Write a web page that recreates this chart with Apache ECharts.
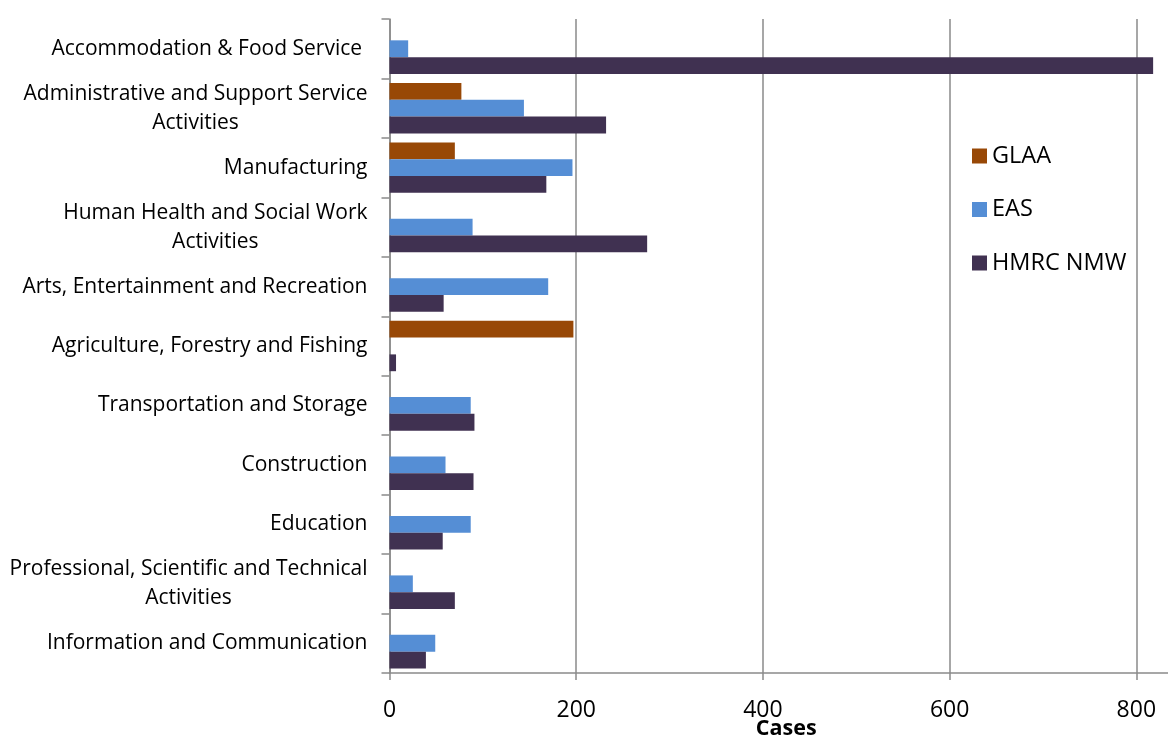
<!DOCTYPE html>
<html>
<head>
<meta charset="utf-8">
<title>Cases by sector</title>
<script src="https://cdn.jsdelivr.net/npm/echarts@6/dist/echarts.min.js"></script>
<style>
  html, body { margin: 0; padding: 0; background: #fff; }
  #chart { width: 1168px; height: 738px; }
</style>
</head>
<body>
<div id="chart"></div>
<script>
// Sectors, top to bottom
const sectors = [
  'Accommodation & Food Service ',
  'Administrative and Support Service\nActivities',
  'Manufacturing',
  'Human Health and Social Work\nActivities',
  'Arts, Entertainment and Recreation',
  'Agriculture, Forestry and Fishing',
  'Transportation and Storage',
  'Construction',
  'Education',
  'Professional, Scientific and Technical\nActivities',
  'Information and Communication'
];

// Cases per enforcement body (null = no cases shown)
const glaa    = [null, 77, 70, null, null, 197, null, null, null, null, null];
const eas     = [20, 144, 196, 89, 170, null, 87, 60, 87, 25, 49];
const hmrcNmw = [818, 232, 168, 276, 58, 7, 91, 90, 57, 70, 39];

const seriesNames = ['GLAA', 'EAS', 'HMRC NMW'];
const seriesColors = ['#984806', '#558ED5', '#403151'];

const FONT = "'Open Sans', 'Liberation Sans', sans-serif";
const gridGray = '#8a8a8a';

const chart = echarts.init(document.getElementById('chart'), null, { renderer: 'canvas' });

const makeBar = (name, data, color) => ({
  name: name,
  type: 'bar',
  data: data,
  barWidth: 16.8,
  barGap: '0%',
  itemStyle: { color: color },
  emphasis: { disabled: true },
  animation: false
});

chart.setOption({
  backgroundColor: '#ffffff',
  animation: false,
  // the value axis runs a little past the right edge of the canvas
  grid: { left: 389.5, right: -15, top: 19, bottom: 65, containLabel: false, outerBoundsMode: 'none' },
  legend: {
    orient: 'vertical',
    left: 972,
    top: 144,
    padding: 0,
    itemWidth: 15,
    itemHeight: 15,
    itemGap: 29.5,
    itemTextGap: 6,
    icon: 'rect',
    data: seriesNames,
    textStyle: { fontFamily: FONT, fontSize: 23.5, lineHeight: 23.5, color: '#000' }
  },
  xAxis: {
    type: 'value',
    min: 0,
    max: 850,
    interval: 200,
    name: 'Cases',
    nameLocation: 'middle',
    nameGap: 45,
    nameMoveOverlap: false,
    nameTextStyle: { fontFamily: FONT, fontSize: 21.5, fontWeight: 'bold', color: '#000' },
    axisLine: { show: true, lineStyle: { color: gridGray, width: 1.5 } },
    axisTick: { show: true, length: 7, lineStyle: { color: gridGray, width: 1.5 } },
    axisLabel: {
      fontFamily: FONT, fontSize: 23, color: '#000', margin: 26,
      showMaxLabel: false
    },
    splitLine: { show: true, lineStyle: { color: gridGray, width: 1.5 } }
  },
  yAxis: {
    type: 'category',
    inverse: true,
    data: sectors,
    axisLine: { show: true, lineStyle: { color: gridGray, width: 1.5 } },
    axisTick: { show: true, length: 8, lineStyle: { color: gridGray, width: 1.5 } },
    axisLabel: {
      margin: 22,
      align: 'right',
      formatter: v => v.split('\n').map(line => '{c|' + line + '}').join('\n'),
      rich: {
        c: { fontFamily: FONT, fontSize: 21, lineHeight: 29, color: '#000', align: 'center' }
      }
    },
    splitLine: { show: false }
  },
  series: [
    makeBar(seriesNames[0], glaa, seriesColors[0]),
    makeBar(seriesNames[1], eas, seriesColors[1]),
    makeBar(seriesNames[2], hmrcNmw, seriesColors[2])
  ]
});
</script>
</body>
</html>
